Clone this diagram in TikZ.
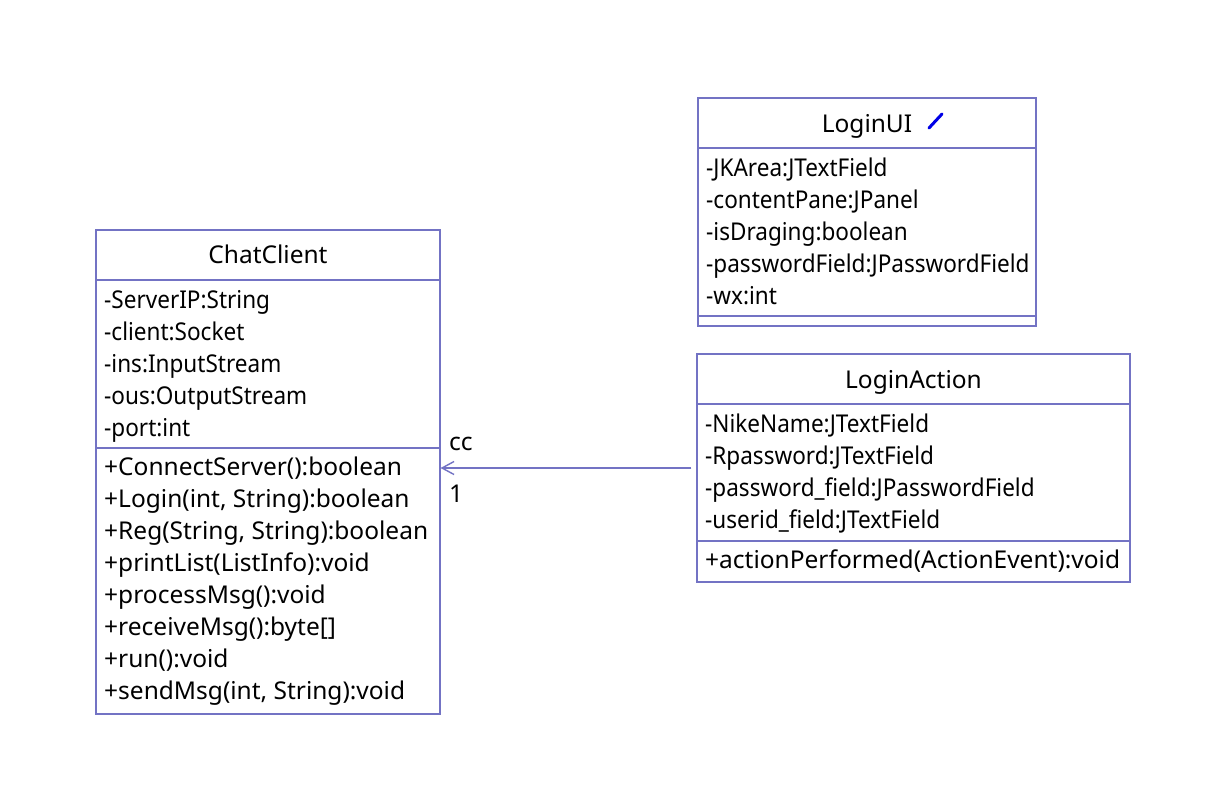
\documentclass[tikz,border=0pt]{standalone}
\usepackage{fontspec}
\setmainfont{Noto Sans}
\newfontfamily\attrfont[FakeStretch=0.92]{Noto Sans}
\usetikzlibrary{arrows.meta}
\definecolor{umlline}{RGB}{115,115,196}
\definecolor{pen}{RGB}{0,0,230}
\begin{document}
\begin{tikzpicture}[x=1pt,y=1pt,
  classbox/.style={draw=umlline, line width=1.1pt, rectangle, inner sep=0pt},
  sep/.style={draw=umlline, line width=1.1pt},
  member/.style={anchor=base west, inner sep=0pt, font=\fontsize{24.5}{28}\selectfont, text=black},
  attr/.style={member, font=\attrfont\fontsize{24.5}{28}\selectfont},
  title/.style={anchor=base, inner sep=0pt, font=\fontsize{24.5}{28}\selectfont, text=black},
  assoc/.style={draw=umlline, line width=1.4pt, -{Straight Barb[length=12pt,width=13pt,line width=1.4pt]}},
  lbl/.style={anchor=base west, inner sep=0pt, font=\fontsize{24.5}{28}\selectfont, text=black}
]
\useasboundingbox (0,0) rectangle (1216,-785);
\fill[white] (0,0) rectangle (1216,-785);

% ChatClient
\node[classbox, minimum width=344pt, minimum height=484pt] (cc) at (268,-472) {};
\draw[sep] (96,-280) -- (440,-280);
\draw[sep] (96,-448) -- (440,-448);
\node[title] (cct) at (268,-263) {ChatClient};
\node[attr] (cca1) at (104,-308) {-ServerIP:String};
\node[attr] (cca2) at (104,-340) {-client:Socket};
\node[attr] (cca3) at (104,-372) {-ins:InputStream};
\node[attr] (cca4) at (104,-404) {-ous:OutputStream};
\node[attr] (cca5) at (104,-436) {-port:int};
\node[member] (ccm1) at (104,-475) {+ConnectServer():boolean};
\node[member] (ccm2) at (104,-507) {+Login(int, String):boolean};
\node[member] (ccm3) at (104,-539) {+Reg(String, String):boolean};
\node[member] (ccm4) at (104,-571) {+printList(ListInfo):void};
\node[member] (ccm5) at (104,-603) {+processMsg():void};
\node[member] (ccm6) at (104,-635) {+receiveMsg():byte[]};
\node[member] (ccm7) at (104,-667) {+run():void};
\node[member] (ccm8) at (104,-699) {+sendMsg(int, String):void};

% LoginUI
\node[classbox, minimum width=338pt, minimum height=228pt] (lu) at (867,-212) {};
\draw[sep] (698,-148) -- (1036,-148);
\draw[sep] (698,-316) -- (1036,-316);
\node[title] (lut) at (867,-132) {LoginUI};
\draw[pen, line width=3pt, line cap=round] (929,-128) -- (942,-114);
\node[attr] (lua1) at (706,-176) {-JKArea:JTextField};
\node[attr] (lua2) at (706,-208) {-contentPane:JPanel};
\node[attr] (lua3) at (706,-240) {-isDraging:boolean};
\node[attr] (lua4) at (706,-272) {-passwordField:JPasswordField};
\node[attr] (lua5) at (706,-304) {-wx:int};

% LoginAction
\node[classbox, minimum width=433pt, minimum height=228pt] (la) at (913.5,-468) {};
\draw[sep] (697,-404) -- (1130,-404);
\draw[sep] (697,-541) -- (1130,-541);
\node[title] (lat) at (913.5,-388) {LoginAction};
\node[attr] (laa1) at (705,-432) {-NikeName:JTextField};
\node[attr] (laa2) at (705,-464) {-Rpassword:JTextField};
\node[attr] (laa3) at (705,-496) {-password\_field:JPasswordField};
\node[attr] (laa4) at (705,-528) {-userid\_field:JTextField};
\node[member] (lam1) at (705,-568) {+actionPerformed(ActionEvent):void};

% association
\draw[assoc, shorten <=5pt] (la.west) -- (la.west -| cc.east);
\node[lbl] (lcc) at (449,-450) {cc};
\node[lbl] (lone) at (449,-502) {1};
\end{tikzpicture}
\end{document}
